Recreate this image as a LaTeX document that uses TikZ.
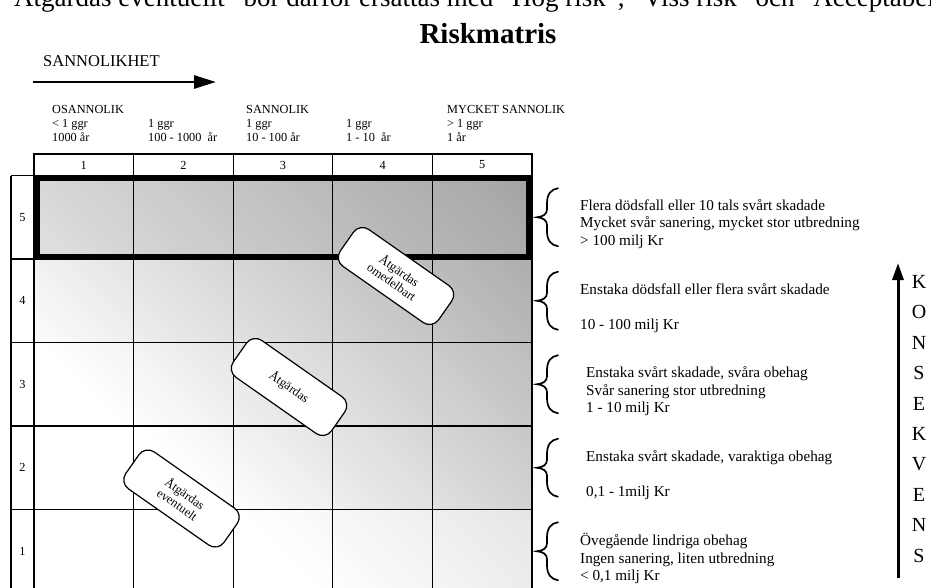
\documentclass[tikz,border=0pt]{standalone}
\usepackage{fontspec}
\setmainfont{Liberation Serif}
\usetikzlibrary{arrows.meta}

% one row of the matrix: white at the lower left, darker towards the upper right,
% painted as thin diagonal strips (lines x - y = const)
% #1 top y, #2 bottom y, #3/#4 diagonal offsets (x - y) of the white and dark ends,
% #5 percentage of black at the dark end
\newcommand{\rowshade}[5]{%
  \begin{scope}
    \clip (34,#1) rectangle (532,#2);
    \fill[white] (34,#1) rectangle (532,#2);
    \fill[black!#5] (#4+#1,#1) -- (700,#1) -- (700,#2) -- (#4+#2,#2) -- cycle;
    \pgfmathsetmacro\rsW{(#4-(#3))/60}%
    \foreach \k in {0,...,59}{%
      \pgfmathsetmacro\rsA{#3+\rsW*\k}%
      \pgfmathsetmacro\rsB{\rsA+\rsW+1}%
      \pgfmathsetmacro\rsP{#5/60*(\k+0.5)}%
      \fill[black!\rsP] (\rsA+#1,#1) -- (\rsB+#1,#1) -- (\rsB+#2,#2) -- (\rsA+#2,#2) -- cycle;
    }
  \end{scope}}

% curly brace opening to the right, tip at (537,#1)
\newcommand{\sidebrace}[1]{%
  \draw[bracestyle] (558,#1-29) .. controls (551,#1-28) and (547,#1-23) .. (547,#1-14)
    -- (547,#1-8) .. controls (547,#1-3) and (543,#1-0.5) .. (537,#1)
    .. controls (543,#1+0.5) and (547,#1+3) .. (547,#1+8)
    -- (547,#1+14) .. controls (547,#1+23) and (551,#1+28) .. (558,#1+29);}

\begin{document}
\begin{tikzpicture}[x=1pt,y=-1pt,
  gridline/.style={line width=1.3pt},
  bracestyle/.style={line width=1.7pt, line cap=round},
  small/.style={font=\fontsize{12.3}{14}\selectfont, inner sep=0pt},
  hdrtext/.style={small, anchor=base west},
  cons/.style={font=\fontsize{15.2}{18}\selectfont, inner sep=0pt, anchor=base west},
  kletter/.style={font=\fontsize{20}{22}\selectfont, inner sep=0pt},
  actionbox/.style={draw, fill=white, line width=1.2pt, rounded corners=11pt,
    minimum width=120pt, minimum height=45pt, rotate=-35, align=center,
    font=\fontsize{12.5}{13.5}\selectfont, inner sep=2pt},
  bigarrow/.style={line width=2.8pt, -{Triangle[length=22pt,width=13pt]}}]

\useasboundingbox (0,0) rectangle (931,587);
\clip (0,0) rectangle (931,587);

% heading text
\node[font=\fontsize{27}{29}\selectfont, anchor=base west, inner sep=0pt] (intro) at (2,6.5)
  {"Åtgärdas eventuellt" bör därför ersättas med "Hög risk", "Viss risk" och "Acceptabel"};
\node[font=\bfseries\fontsize{29}{30}\selectfont, anchor=base, inner sep=0pt] (title) at (488,43) {Riskmatris};

% probability axis
\node[font=\fontsize{16.5}{18}\selectfont, anchor=base west, inner sep=0pt] (sann) at (43,66.5) {SANNOLIKHET};
\coordinate (pstart) at (33,82);
\coordinate (pend) at (216,82);
\draw[bigarrow] (pstart) -- (pend);

% column headings
\node[hdrtext] (c1a) at (52,113.3) {OSANNOLIK};
\node[hdrtext] (c1b) at (52,127.5) {< 1 ggr};
\node[hdrtext] (c1c) at (52,141.7) {1000 år};
\node[hdrtext] (c2b) at (148,127.5) {1 ggr};
\node[hdrtext] (c2c) at (148,141.7) {100 - 1000\ \ år};
\node[hdrtext] (c3a) at (246,113.3) {SANNOLIK};
\node[hdrtext] (c3b) at (246,127.5) {1 ggr};
\node[hdrtext] (c3c) at (246,141.7) {10 - 100 år};
\node[hdrtext] (c4b) at (346,127.5) {1 ggr};
\node[hdrtext] (c4c) at (346,141.7) {1 - 10\ \ år};
\node[hdrtext] (c5a) at (447,113.3) {MYCKET SANNOLIK};
\node[hdrtext] (c5b) at (447,127.5) {> 1 ggr};
\node[hdrtext] (c5c) at (447,141.7) {1 år};

% shaded rows, top (5) to bottom (1)
\rowshade{175.5}{259}{-516}{357}{36}
\rowshade{259}{342.5}{-330}{273}{32}
\rowshade{342.5}{426}{-300}{190}{26}
\rowshade{426}{509.5}{-285}{106}{22}
\rowshade{509.5}{593}{-270}{22}{10}

% header row with column numbers
\draw[gridline] (34,154) rectangle (532,175.5);
\foreach \i in {1,...,4}
  \draw[gridline] ({34+99.6*\i},154) -- ({34+99.6*\i},175.5);
\foreach \i in {1,...,5}
  \node[small] (hn\i) at ({34+99.6*(\i-0.5)},165) {\i};

% matrix grid and row label column
\foreach \i in {0,...,5}
  \draw[gridline] ({34+99.6*\i},175.5) -- ({34+99.6*\i},593);
\draw[gridline] (11,175.5) -- (11,593);
\foreach \y in {175.5,259,342.5,426,509.5}
  \draw[gridline] (11,\y) -- (532,\y);
\foreach \i/\y in {5/217.25,4/300.75,3/384.25,2/467.75,1/551.25}
  \node[small] (rl\i) at (22.5,\y) {\i};

% highlighted top row
\draw[line width=5.5pt] (37,178.5) rectangle (529,256.5);

% action labels
\node[actionbox] (act1) at (396,276) {Åtgärdas\\omedelbart};
\node[actionbox] (act2) at (289,387) {Åtgärdas};
\node[actionbox] (act3) at (181.5,498.5) {Åtgärdas\\eventuelt};

% consequence descriptions
\sidebrace{217.25}
\sidebrace{300.75}
\sidebrace{384.25}
\sidebrace{467.75}
\sidebrace{551.25}

\node[cons] (r5a) at (580,210) {Flera dödsfall eller 10 tals svårt skadade};
\node[cons] (r5b) at (580,227.5) {Mycket svår sanering, mycket stor utbredning};
\node[cons] (r5c) at (580,245) {> 100 milj Kr};
\node[cons] (r4a) at (580,294) {Enstaka dödsfall eller flera svårt skadade};
\node[cons] (r4c) at (580,329) {10 - 100 milj Kr};
\node[cons] (r3a) at (586,377.5) {Enstaka svårt skadade, svåra obehag};
\node[cons] (r3b) at (586,395) {Svår sanering stor utbredning};
\node[cons] (r3c) at (586,412.5) {1 - 10 milj Kr};
\node[cons] (r2a) at (586,461.5) {Enstaka svårt skadade, varaktiga obehag};
\node[cons] (r2c) at (586,496.5) {0,1 - 1milj Kr};
\node[cons] (r1a) at (580,545.5) {Övegående lindriga obehag};
\node[cons] (r1b) at (580,563) {Ingen sanering, liten utbredning};
\node[cons] (r1c) at (580,580.5) {< 0,1 milj Kr};

% consequence axis
\coordinate (kstart) at (898,578);
\coordinate (kend) at (898,263);
\draw[line width=3pt, -{Triangle[length=17pt,width=11pt]}] (kstart) -- (kend);
\foreach \ch [count=\i] in {K,O,N,S,E,K,V,E,N,S}
  \node[kletter] (k\i) at (919,{282+(\i-1)*30.4}) {\ch};

\end{tikzpicture}
\end{document}
